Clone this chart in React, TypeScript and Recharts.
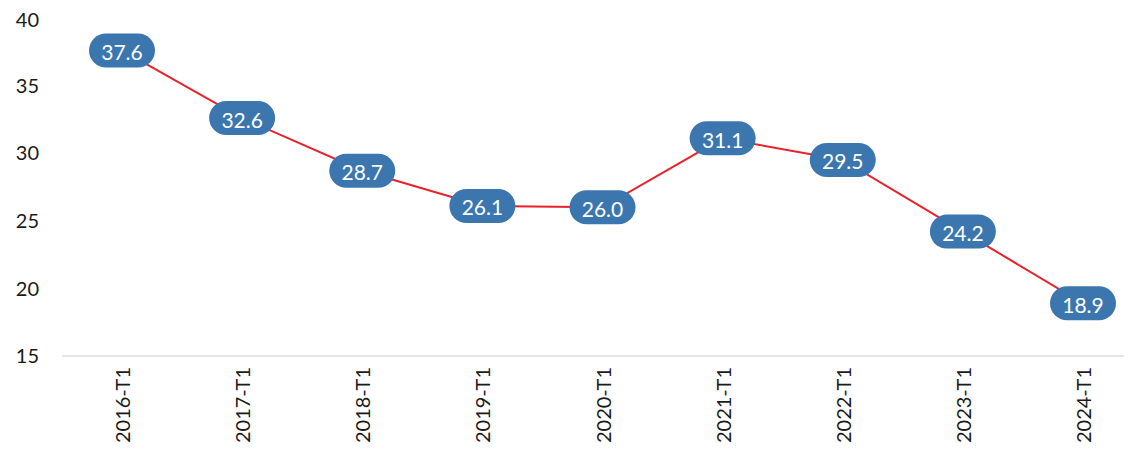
import { LineChart, Line, XAxis, YAxis, LabelList } from "recharts";

const periods = [
  "2016-T1",
  "2017-T1",
  "2018-T1",
  "2019-T1",
  "2020-T1",
  "2021-T1",
  "2022-T1",
  "2023-T1",
  "2024-T1",
];
const values = [37.6, 32.6, 28.7, 26.1, 26.0, 31.1, 29.5, 24.2, 18.9];
const yTicks = [15, 20, 25, 30, 35, 40];

const font = "Lato, 'Noto Sans', sans-serif";

const data = periods.map((period, i) => ({ period, value: values[i] }));

function PeriodTick(props: any) {
  const { x, y, payload } = props;
  const ty = y + 3;
  return (
    <text
      x={x}
      y={ty}
      transform={`rotate(-90, ${x}, ${ty})`}
      textAnchor="end"
      dominantBaseline="central"
      fill="#1a1a1a"
      fontSize={20}
      fontFamily={font}
    >
      {payload.value}
    </text>
  );
}

function Pill(props: any) {
  const { x, y, value } = props;
  const w = 66;
  const h = 34;
  return (
    <g>
      <rect x={x - w / 2} y={y - h / 2} width={w} height={h} rx={17} ry={17} fill="#3b77ae" />
      <text
        x={x}
        y={y + 1}
        textAnchor="middle"
        dominantBaseline="central"
        fill="#ffffff"
        fontSize={21}
        fontFamily={font}
      >
        {Number(value).toFixed(1)}
      </text>
    </g>
  );
}

export default function App() {
  return (
    <div style={{ width: 1124, height: 440, overflow: "hidden" }}>
      <LineChart width={1124} height={448} data={data} margin={{ top: 10, right: 0, left: 0, bottom: 0 }}>
        <XAxis
          dataKey="period"
          height={100}
          interval={0}
          padding={{ left: 60, right: 49 }}
          tickLine={false}
          axisLine={{ stroke: "#e6e6e6", strokeWidth: 2 }}
          tick={<PeriodTick />}
        />
        <YAxis
          width={54}
          domain={[15, 40]}
          ticks={yTicks}
          axisLine={false}
          tickLine={false}
          tickMargin={17}
          tick={{ fill: "#1a1a1a", fontSize: 20, fontFamily: font }}
        />
        <Line
          dataKey="value"
          stroke="#e8212b"
          strokeWidth={2}
          dot={false}
          isAnimationActive={false}
        >
          <LabelList dataKey="value" content={<Pill />} />
        </Line>
      </LineChart>
    </div>
  );
}
